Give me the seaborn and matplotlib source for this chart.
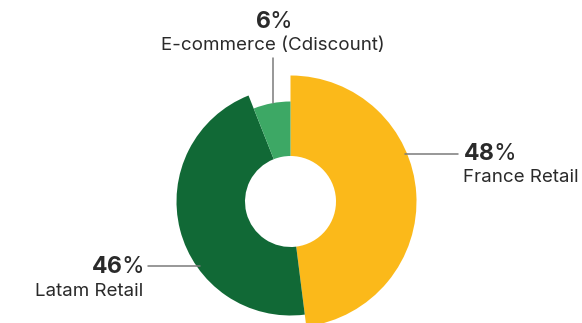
import matplotlib
matplotlib.use("Agg")
import matplotlib.pyplot as plt
import seaborn as sns

# Revenue split by segment
segments = ["France Retail", "Latam Retail", "E-commerce (Cdiscount)"]
shares = [48, 46, 6]
colors = ["#FBB91A", "#116936", "#3DA865"]
outer_radii = [126, 114, 100]
inner_radius = 45.5

sns.set_theme(style="white")
plt.rcParams["font.family"] = ["Inter", "DejaVu Sans"]
plt.rcParams["mathtext.fontset"] = "custom"
plt.rcParams["mathtext.rm"] = "Inter"
plt.rcParams["mathtext.bf"] = "Inter:bold"

W, H = 582, 323
fig = plt.figure(figsize=(W / 100, H / 100), dpi=100)
ax = fig.add_axes([0, 0, 1, 1])

cx, cy = 290.5, H - 201.5

# one pie per ring radius, showing only the matching slice
for i, r in enumerate(outer_radii):
    fc = [c if j == i else "none" for j, c in enumerate(colors)]
    ax.pie(shares, radius=r, center=(cx, cy), startangle=90, counterclock=False,
           colors=fc, wedgeprops=dict(width=r - inner_radius, linewidth=0, edgecolor="none"),
           frame=True)
ax.set_xlim(0, W)
ax.set_ylim(0, H)
ax.set_aspect("equal")
ax.axis("off")

txt = "#2a2a2a"
line_c = "#7a7a7a"

# leader lines
ax.plot([273, 273], [H - 58, H - 103], color=line_c, lw=1.1)
ax.plot([405, 458], [H - 154, H - 154], color=line_c, lw=1.1)
ax.plot([148, 200], [H - 266, H - 266], color=line_c, lw=1.1)


def label(x, y, pct, name, ha):
    # bold figure followed by a regular percent sign, as one text
    ax.text(x, y, rf"$\mathbf{{{pct}}}$%", fontsize=16.5, color=txt, ha=ha, va="center")
    ax.text(x, y - 24, name, fontsize=13.5, color=txt, ha=ha, va="center")


label(273, H - 22, shares[2], segments[2], "center")
label(463, H - 154, shares[0], segments[0], "left")
label(143, H - 267, shares[1], segments[1], "right")

fig.savefig("out.png", dpi=100)
